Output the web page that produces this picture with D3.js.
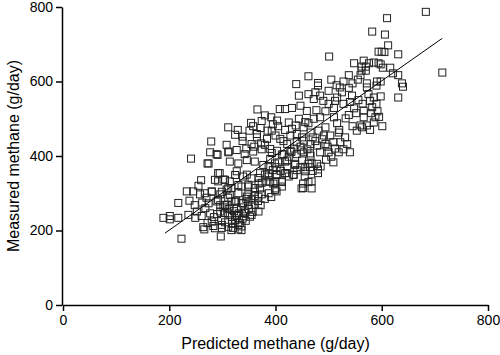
<!DOCTYPE html>
<html>
<head>
<meta charset="utf-8">
<script src="https://cdn.jsdelivr.net/npm/d3@7"></script>
<style>
  body { margin: 0; background: #fff; }
  svg { display: block; font-family: "Liberation Sans", Arial, sans-serif; }
</style>
</head>
<body>
<div id="chart"></div>
<script>
// Predicted vs measured methane (g/day)
const points = [
  [582,734],[501,667],[548,649],[566,656],[576,649],[585,651],[562,640],[570,640],[562,629],[570,629],
  [594,680],[594,649],[538,617],[560,617],[462,614],[505,605],[480,596],[439,593],[572,595],[591,600],
  [683,787],[610,770],[606,726],[612,697],[600,680],[605,679],[631,673],[598,646],[602,637],[616,637],
  [621,622],[631,617],[714,624],[638,595],[598,600],[640,586],[631,557],[601,480],[595,505],
  [366,525],[380,509],[374,494],[354,489],[311,477],[329,470],[324,457],[338,452],[351,468],[365,459],
  [279,439],[308,430],[355,432],[373,434],[365,450],[277,410],[291,403],[312,412],[241,393],[272,380],
  [480,589],[521,584],[538,583],[572,584],[590,589],[444,562],[462,566],[475,571],[484,562],[472,553],
  [516,557],[525,571],[544,562],[575,566],[585,557],[408,526],[418,526],[431,529],[447,535],[459,521],
  [477,523],[494,520],[510,529],[548,528],[566,522],[582,531],[588,504],[392,504],[403,495],[444,500],
  [456,491],[472,500],[484,504],[510,504],[516,488],[532,501],[566,504],[572,482],[563,477],[431,473],
  [440,459],[453,477],[466,463],[481,468],[494,477],[491,455],[519,463],[531,450],[535,432],[553,468],
  [560,482],[393,468],[400,455],[384,446],[409,446],[422,432],[440,437],[453,441],[466,432],[478,428],
  [503,455],[494,432],[509,437],[390,419],[403,414],[415,405],[428,414],[440,405],[453,410],[466,401],
  [484,410],[500,410],[519,410],[522,437],[390,392],[406,383],[422,388],[437,379],[450,388],[462,379],
  [478,379],[509,383],[387,370],[402,370],[422,370],[447,370],[465,370],
  [260,335],[233,305],[217,274],[189,234],[201,230],[201,239],[217,234],[223,178],[264,209],[266,203],
  [283,212],[299,207],[297,184],[320,207],[333,220],[324,229],[236,242],[252,251],[249,234],[261,239],
  [272,220],[258,297],[270,288],[280,305],[296,297],[289,278],[292,332],[302,337],[314,332],[292,354],
  [327,359],[346,350],[308,269],[317,278],[327,260],[336,274],[349,278],[361,269],[305,247],[314,242],
  [327,239],[342,247],[355,242],[368,251],[336,318],[349,323],[361,314],[374,328],[368,341],[380,350],
  [349,297],[361,293],[374,297],[317,314],[308,310],[336,211],[330,203],
  [387,354],[402,350],[418,354],[434,350],[456,359],[480,354],[390,330],[400,332],[412,330],[400,313],
  [402,305],[412,318],[462,330],[452,314],[480,364],
  [274,380],[289,405],[311,410],[327,416],[342,405],[358,412],[374,418],[393,408],[412,404],[430,411],
  [449,415],[465,407],[314,385],[330,380],[346,389],[361,385],[377,376],[399,380],[418,385],[437,376],
  [456,371],[468,380],[295,354],[286,336],[305,336],[324,349],[339,345],[355,340],[371,354],[387,345],
  [402,349],[421,354],[434,349],[368,326],[383,332],[396,326],[412,332],[399,309],[371,313],[349,318],
  [330,322],[311,313],[449,313],[452,326],[267,300],[280,304],[299,304],[314,295],[330,300],[346,291],
  [361,304],[368,291],[274,273],[292,282],[305,268],[324,277],[339,273],[355,268],[277,246],[296,251],
  [311,246],[327,242],[342,251],[352,237],[324,228],[280,224],[299,215],[311,210],[330,215],[336,201],
  [317,201],[286,206],[468,332],[468,313],
  [298,228],[305,222],[318,236],[322,252],[331,246],[338,232],[344,226],[350,258],[357,250],[335,262],
  [312,258],[302,262],[290,244],[284,236],[318,218],[340,238],[326,280],[311,288],[296,268],[345,285],
  [355,283],[367,279],[372,268],[380,285],[387,300],[392,290],
  [395,362],[410,360],[425,345],[440,362],[455,345],[470,360],[485,372],[495,390],[505,398],[425,398],
  [435,420],[447,425],[460,418],[475,440],[488,445],[498,425],[512,420],[528,418],[540,410],[415,440],
  [428,455],[418,470],[405,480],[425,490],[438,482],[462,488],[450,450],[470,450],
  [500,540],[512,548],[528,540],[540,545],[556,550],[564,540],[578,548],[590,540],[598,560],[545,595],
  [555,605],[528,600],[515,590],[500,575],[490,548],[538,510],[552,515],[580,515],[592,520],[520,470],
  [545,480],[578,470],[585,490],
  [245,305],[255,320],[262,275],[268,260],[248,268],[238,280],
  [345,420],[360,425],[380,430],[338,440],[385,468],[372,475],[395,485],[358,480]
];
const fitLine = [[192, 193], [714, 716]];
const xTicks = [0, 200, 400, 600, 800];
const yTicks = [0, 200, 400, 600, 800];

const width = 500, height = 355;
const svg = d3.select("#chart").append("svg")
  .attr("width", width)
  .attr("height", height);

const x = d3.scaleLinear().domain([0, 800]).range([63, 488]);
const y = d3.scaleLinear().domain([0, 800]).range([305, 7]);

// axes
const xAxis = svg.append("g")
  .attr("transform", `translate(0,${y(0)})`)
  .call(d3.axisBottom(x).tickValues(xTicks).tickSize(6).tickPadding(4).tickSizeOuter(0));
const yAxis = svg.append("g")
  .attr("transform", `translate(${x(0) - 1},0)`)
  .call(d3.axisLeft(y).tickValues(yTicks).tickSize(6).tickPadding(3).tickSizeOuter(0));

[xAxis, yAxis].forEach(a => {
  a.select(".domain").attr("stroke", "#000").attr("stroke-width", 1.5);
  a.selectAll(".tick line").attr("stroke", "#000").attr("stroke-width", 1.5);
  a.selectAll(".tick text").attr("fill", "#000").attr("font-size", "14px")
    .attr("font-family", "'Liberation Sans', Arial, sans-serif");
});

// markers
svg.append("g")
  .selectAll("rect")
  .data(points)
  .enter().append("rect")
  .attr("x", d => x(d[0]) - 3.5)
  .attr("y", d => y(d[1]) - 3.5)
  .attr("width", 7)
  .attr("height", 7)
  .attr("fill", "none")
  .attr("stroke", "#222")
  .attr("stroke-width", 1);

// regression line
svg.append("line")
  .attr("x1", x(fitLine[0][0])).attr("y1", y(fitLine[0][1]))
  .attr("x2", x(fitLine[1][0])).attr("y2", y(fitLine[1][1]))
  .attr("stroke", "#000")
  .attr("stroke-width", 1);

// titles
svg.append("text")
  .attr("x", (x(0) + x(800)) / 2)
  .attr("y", 349)
  .attr("text-anchor", "middle")
  .attr("font-size", "16px")
  .text("Predicted methane (g/day)");

svg.append("text")
  .attr("transform", `translate(19,${(y(0) + y(800)) / 2}) rotate(-90)`)
  .attr("text-anchor", "middle")
  .attr("font-size", "16px")
  .text("Measured methane (g/day)");
</script>
</body>
</html>
